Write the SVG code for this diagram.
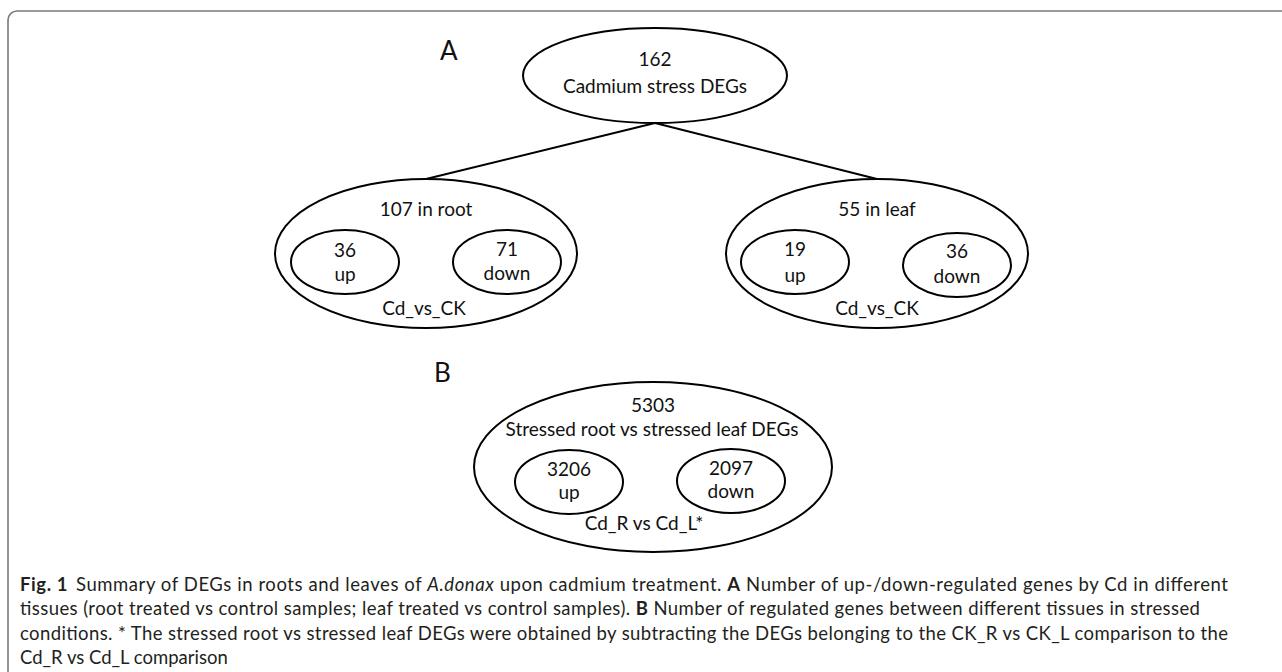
<svg xmlns="http://www.w3.org/2000/svg" width="1282" height="672" viewBox="0 0 1282 672">
<style>
.frame{fill:none;stroke:#7a7a7a;stroke-width:1.6}
.ell{fill:none;stroke:#000;stroke-width:2}
.conn{stroke:#000;stroke-width:2;fill:none}
.t{font-family:Lato,"Open Sans",sans-serif;font-size:19px;fill:#111;text-anchor:middle}
.lab{font-family:Lato,"Open Sans",sans-serif;font-size:26px;fill:#111}
.cap{font-family:Lato,"Open Sans",sans-serif;font-size:18.5px;fill:#231f20}
.b{font-weight:bold}
</style>
<rect class="frame" x="8" y="11" width="1300" height="700" rx="9"/>
<text class="lab" x="440" y="60">A</text>
<text class="lab" x="434" y="382">B</text>
<g id="connectors">
<line class="conn" x1="655" y1="123" x2="426" y2="179"/>
<line class="conn" x1="655" y1="123" x2="877" y2="179"/>
</g>
<g id="node-total">
<ellipse class="ell" cx="655" cy="75.5" rx="132" ry="47.5"/>
<text class="t" x="655" y="66">162</text>
<text class="t" x="655" y="93">Cadmium stress DEGs</text>
</g>
<g id="node-root">
<ellipse class="ell" cx="426" cy="253.5" rx="151" ry="74.5"/>
<text class="t" x="426" y="216">107 in root</text>
<text class="t" x="424" y="315">Cd_vs_CK</text>
</g>
<g id="node-root-up">
<ellipse class="ell" cx="345" cy="262" rx="54" ry="32"/>
<text class="t" x="345" y="257">36</text>
<text class="t" x="345" y="281">up</text>
</g>
<g id="node-root-down">
<ellipse class="ell" cx="507" cy="262" rx="54" ry="32"/>
<text class="t" x="507" y="256">71</text>
<text class="t" x="507" y="280">down</text>
</g>
<g id="node-leaf">
<ellipse class="ell" cx="877" cy="253.5" rx="151" ry="74.5"/>
<text class="t" x="877" y="216">55 in leaf</text>
<text class="t" x="877" y="315">Cd_vs_CK</text>
</g>
<g id="node-leaf-up">
<ellipse class="ell" cx="795" cy="262" rx="54" ry="32"/>
<text class="t" x="795" y="256">19</text>
<text class="t" x="795" y="282">up</text>
</g>
<g id="node-leaf-down">
<ellipse class="ell" cx="957" cy="265" rx="54" ry="32"/>
<text class="t" x="957" y="258">36</text>
<text class="t" x="957" y="283">down</text>
</g>
<g id="node-stressed">
<ellipse class="ell" cx="653" cy="467" rx="179" ry="85"/>
<text class="t" x="653" y="412">5303</text>
<text class="t" x="652" y="436">Stressed root vs stressed leaf DEGs</text>
<text class="t" x="644" y="530">Cd_R vs Cd_L*</text>
</g>
<g id="node-stressed-up">
<ellipse class="ell" cx="569" cy="482" rx="54" ry="32"/>
<text class="t" x="569" y="476">3206</text>
<text class="t" x="569" y="499">up</text>
</g>
<g id="node-stressed-down">
<ellipse class="ell" cx="731" cy="481" rx="54" ry="32"/>
<text class="t" x="731" y="475">2097</text>
<text class="t" x="731" y="498">down</text>
</g>
<g id="caption">
<text class="cap" x="20" y="591" textLength="1208" lengthAdjust="spacing"><tspan class="b">Fig. 1</tspan><tspan dx="8">Summary of DEGs in roots and leaves of </tspan><tspan font-style="italic">A.donax</tspan> upon cadmium treatment. <tspan class="b">A</tspan> Number of up-/down-regulated genes by Cd in different</text>
<text class="cap" x="20" y="615" textLength="1180" lengthAdjust="spacing">tissues (root treated vs control samples; leaf treated vs control samples). <tspan class="b">B</tspan> Number of regulated genes between different tissues in stressed</text>
<text class="cap" x="20" y="640" textLength="1208" lengthAdjust="spacing">conditions. * The stressed root vs stressed leaf DEGs were obtained by subtracting the DEGs belonging to the CK_R vs CK_L comparison to the</text>
<text class="cap" x="20" y="664">Cd_R vs Cd_L comparison</text>
</g>
</svg>
